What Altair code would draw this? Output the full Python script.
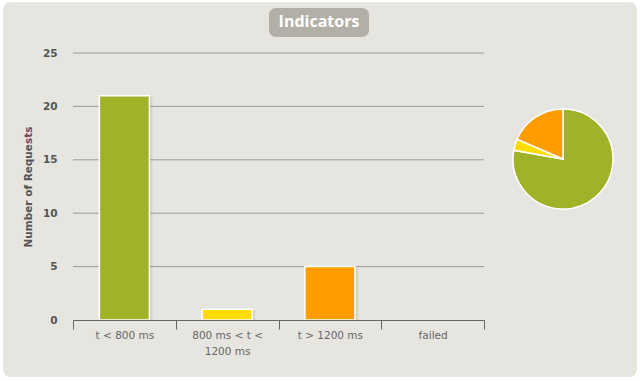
import altair as alt
import pandas as pd

categories = ["t < 800 ms", "800 ms < t < 1200 ms", "t > 1200 ms", "failed"]
counts = [21, 1, 5, 0]
colors = ["#A0B228", "#FFDD00", "#FF9D00", "#F15B4F"]
y_ticks = [0, 5, 10, 15, 20, 25]
title_text = "Indicators"
y_title = "Number of Requests"

FONT = "Open Sans"
AFONT = "DejaVu Sans"
CARD = "#E6E5E0"

df = pd.DataFrame({"category": categories, "count": counts, "idx": list(range(len(categories)))})
nz_df = df[df["count"] > 0]
grid_df = pd.DataFrame({"v": [t for t in y_ticks if t > 0]})
one = pd.DataFrame({"a": [0]})

xenc = alt.X("category:N", sort=categories, title=None,
             scale=alt.Scale(domain=categories, paddingInner=0, paddingOuter=0),
             axis=alt.Axis(labelAngle=0, labelColor="#666666", labelFont=AFONT, labelFontSize=10.5,
                           domainColor="#666666", tickColor="#666666", tickSize=9, tickBand="extent",
                           labelPadding=1, labelLimit=200, zindex=1, labelLineHeight=16,
                           labelExpr="datum.label == '800 ms < t < 1200 ms' ? ['800 ms < t <', '1200 ms'] : datum.label"))
yenc = alt.Y("count:Q", title=y_title, scale=alt.Scale(domain=[0, 25], nice=False),
             axis=alt.Axis(values=y_ticks, grid=False, domain=False, ticks=False, labelPadding=16, zindex=1,
                           labelColor="#555555", labelFont=AFONT, labelFontSize=10.5, labelFontWeight="bold",
                           titleColor="#555555", titleFont=AFONT, titleFontSize=10.5, titleFontWeight="bold",
                           titlePadding=9))
color_scale = alt.Scale(domain=categories, range=colors)

card = alt.Chart(one).mark_rect(color=CARD, cornerRadius=8).encode(
    x=alt.value(-70), x2=alt.value(564), y=alt.value(-51), y2=alt.value(324))

grid = alt.Chart(grid_df).mark_rule(color="#9A9A9A", strokeWidth=1).encode(
    y=alt.Y("v:Q", scale=alt.Scale(domain=[0, 25], nice=False)), x=alt.value(0), x2=alt.value(411))

shadow = alt.Chart(nz_df).mark_bar(size=50, color="#000000", opacity=0.08, xOffset=3, yOffset=1).encode(
    x=xenc, y=yenc)

bars = alt.Chart(nz_df).mark_bar(size=50, stroke="white", strokeWidth=1.5).encode(
    x=xenc, y=yenc,
    color=alt.Color("category:N", scale=color_scale, legend=None))

pie_shadow = alt.Chart(one).mark_circle(size=7900, color="#000000", opacity=0.12).encode(
    x=alt.value(492), y=alt.value(108))

pie = alt.Chart(nz_df).mark_arc(radius=50, stroke="white", strokeWidth=1.5).encode(
    theta=alt.Theta("count:Q", stack=True),
    order=alt.Order("idx:Q"),
    color=alt.Color("category:N", scale=color_scale, legend=None),
    x=alt.value(490), y=alt.value(106))

pill = alt.Chart(one).mark_rect(color="#B2B0A6", cornerRadius=7).encode(
    x=alt.value(196), x2=alt.value(296), y=alt.value(-45), y2=alt.value(-16))

title = alt.Chart(one).mark_text(text=title_text, font=FONT, fontSize=16, fontWeight="bold",
                                 color="white", align="center", baseline="middle").encode(
    x=alt.value(246), y=alt.value(-31))

chart = alt.layer(card, grid, shadow, bars, pie_shadow, pie, pill, title).resolve_scale(
    y="shared"
).properties(
    width=411, height=267,
    autosize=alt.AutoSizeParams(type="none"),
    padding={"left": 73, "top": 53, "right": 159, "bottom": 61},
    background="white"
).configure_view(stroke=None)

chart.save("out.html", embed_options={"renderer": "svg", "actions": False})
